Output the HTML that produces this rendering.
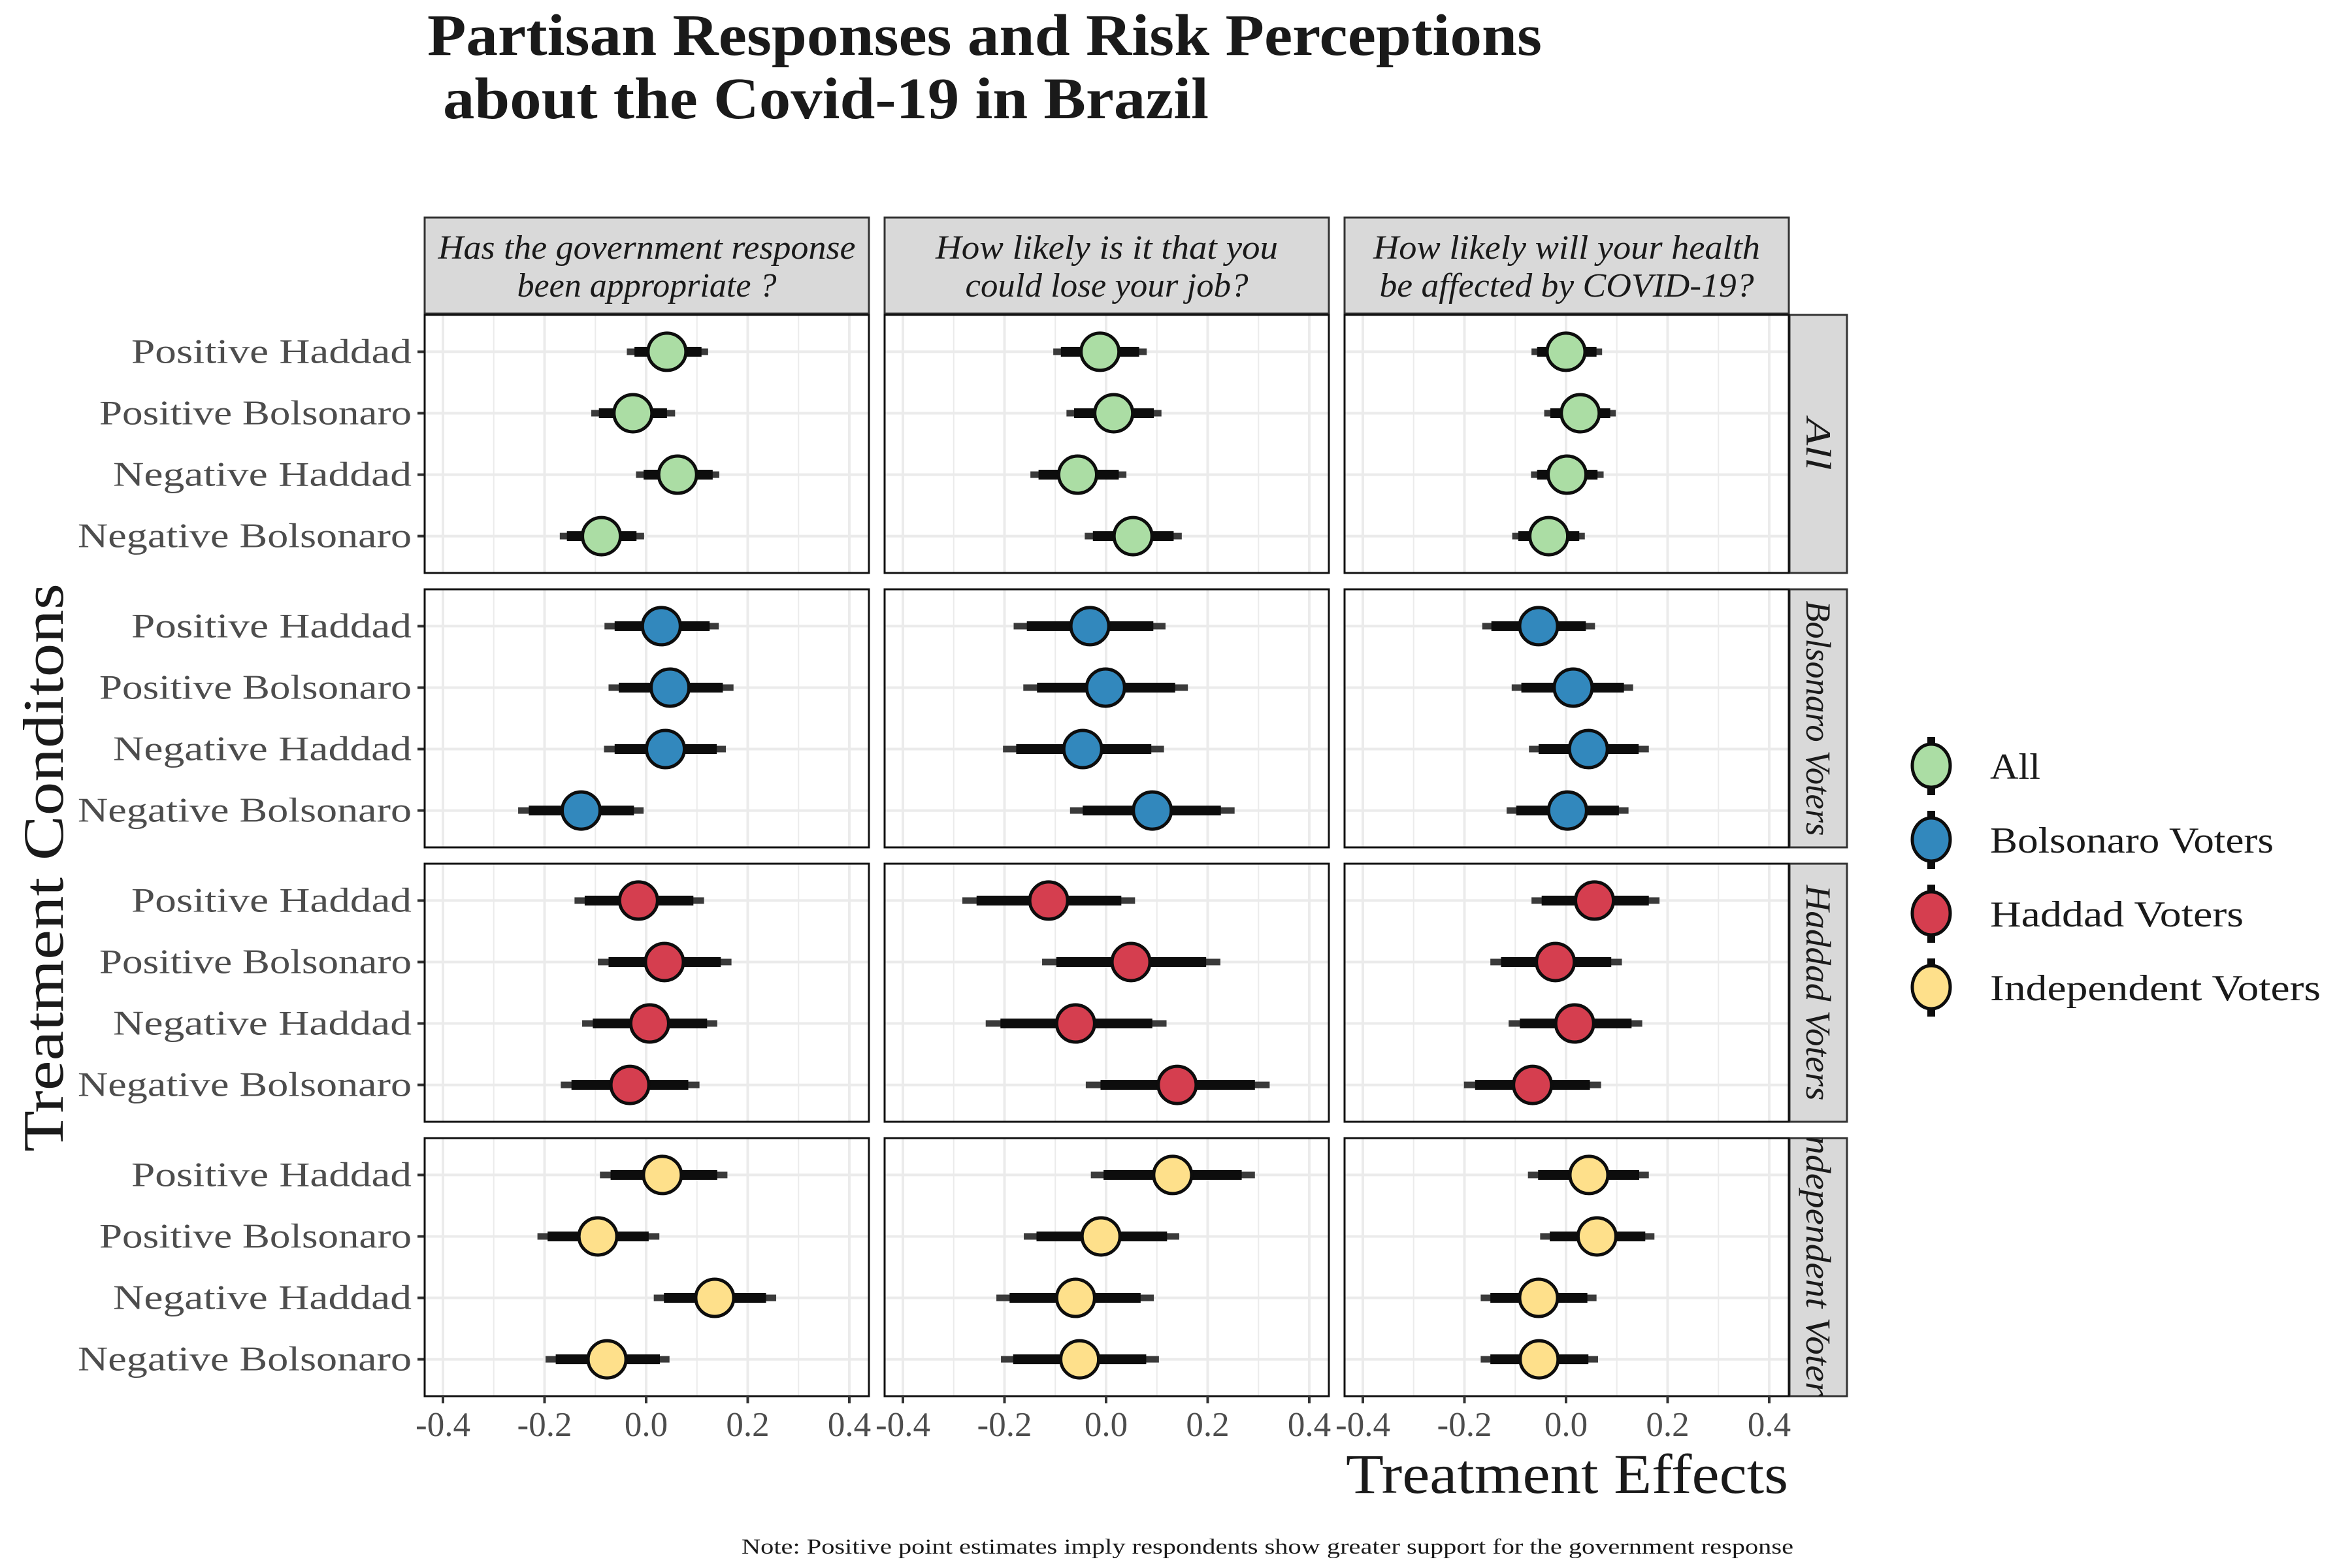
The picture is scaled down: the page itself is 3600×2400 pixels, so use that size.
<!DOCTYPE html>
<html><head><meta charset="utf-8"><style>
html,body{margin:0;padding:0;background:#fff;}
svg{display:block;}
</style></head>
<body>
<svg id="chart" xmlns="http://www.w3.org/2000/svg" width="3600" height="2400" viewBox="0 0 3600 2400" font-family="'Liberation Serif', serif">
<rect x="0" y="0" width="3600" height="2400" fill="#fff"/>
<text x="654" y="84" font-size="90" font-weight="bold" fill="#1a1a1a" textLength="1706" lengthAdjust="spacingAndGlyphs">Partisan Responses and Risk Perceptions</text>
<text x="678" y="181" font-size="90" font-weight="bold" fill="#1a1a1a" textLength="1172" lengthAdjust="spacingAndGlyphs">about the Covid-19 in Brazil</text>
<text transform="translate(96,1328) rotate(-90)" text-anchor="middle" font-size="88" fill="#1a1a1a" textLength="870" lengthAdjust="spacingAndGlyphs">Treatment Conditons</text>
<text x="2737" y="2285" text-anchor="end" font-size="86" fill="#1a1a1a" textLength="677" lengthAdjust="spacingAndGlyphs">Treatment Effects</text>
<text x="2745" y="2378" text-anchor="end" font-size="33" fill="#1a1a1a" textLength="1610" lengthAdjust="spacingAndGlyphs">Note: Positive point estimates imply respondents show greater support for the government response</text>
<g id="panels"></g>
<g id="legend"></g>
</svg>
<script>
// ---- data ----
const conditions = ["Positive Haddad", "Positive Bolsonaro", "Negative Haddad", "Negative Bolsonaro"];
const groups = ["All", "Bolsonaro Voters", "Haddad Voters", "Independent Voters"];
const questions = [["Has the government response", "been appropriate ?"], ["How likely is it that you", "could lose your job?"], ["How likely will your health", " be affected by COVID-19?"]];
const xTicks = [-0.4, -0.2, 0.0, 0.2, 0.4];
const xTickLabels = ["-0.4", "-0.2", "0.0", "0.2", "0.4"];
const groupColors = ["#ABDDA4", "#3288BD", "#D53E4F", "#FEE08B"];
// [group][question][condition]
const estimates = [
 [[0.041,-0.026,0.062,-0.088],[-0.012,0.015,-0.056,0.053],[0.000,0.028,0.002,-0.034]],
 [[0.030,0.047,0.038,-0.128],[-0.032,-0.001,-0.046,0.091],[-0.054,0.014,0.044,0.003]],
 [[-0.015,0.036,0.007,-0.032],[-0.113,0.049,-0.060,0.140],[0.056,-0.021,0.017,-0.066]],
 [[0.032,-0.095,0.135,-0.077],[0.131,-0.010,-0.060,-0.052],[0.045,0.061,-0.054,-0.053]]
];
const innerLow = [
 [[-0.023,-0.093,-0.005,-0.156],[-0.089,-0.063,-0.133,-0.026],[-0.057,-0.031,-0.057,-0.094]],
 [[-0.062,-0.054,-0.062,-0.231],[-0.156,-0.136,-0.177,-0.046],[-0.147,-0.088,-0.054,-0.098]],
 [[-0.121,-0.074,-0.105,-0.147],[-0.255,-0.098,-0.208,-0.011],[-0.048,-0.128,-0.091,-0.179]],
 [[-0.070,-0.194,0.035,-0.178],[-0.005,-0.137,-0.190,-0.183],[-0.055,-0.032,-0.149,-0.149]]
];
const innerHigh = [
 [[0.109,0.041,0.131,-0.019],[0.065,0.094,0.025,0.133],[0.060,0.087,0.062,0.026]],
 [[0.125,0.151,0.139,-0.024],[0.093,0.136,0.089,0.226],[0.039,0.114,0.143,0.104]],
 [[0.093,0.147,0.120,0.083],[0.030,0.197,0.091,0.293],[0.163,0.089,0.129,0.047]],
 [[0.140,0.005,0.236,0.027],[0.267,0.120,0.068,0.079],[0.144,0.156,0.042,0.044]]
];
const outerLow = [
 [[-0.038,-0.108,-0.020,-0.170],[-0.104,-0.078,-0.149,-0.042],[-0.068,-0.043,-0.069,-0.106]],
 [[-0.082,-0.074,-0.083,-0.252],[-0.182,-0.163,-0.203,-0.071],[-0.165,-0.107,-0.073,-0.117]],
 [[-0.141,-0.095,-0.126,-0.168],[-0.283,-0.126,-0.237,-0.040],[-0.068,-0.149,-0.113,-0.201]],
 [[-0.091,-0.214,0.015,-0.198],[-0.030,-0.162,-0.216,-0.207],[-0.075,-0.051,-0.168,-0.168]]
];
const outerHigh = [
 [[0.122,0.057,0.144,-0.004],[0.080,0.109,0.040,0.149],[0.071,0.098,0.074,0.037]],
 [[0.143,0.172,0.157,-0.005],[0.117,0.161,0.114,0.253],[0.057,0.132,0.163,0.123]],
 [[0.114,0.168,0.140,0.105],[0.057,0.225,0.119,0.322],[0.184,0.110,0.150,0.069]],
 [[0.160,0.026,0.256,0.046],[0.293,0.144,0.094,0.104],[0.163,0.174,0.060,0.063]]
];

// ---- layout ----
const NS = "http://www.w3.org/2000/svg";
const panelLefts = [650, 1354, 2058];
const panelW = 680, panelTop0 = 482, panelH = 395, rowStep = 420;
const zeroOffset = 339, pxPerUnit = 777.5;
const stripTextWidths = [[639, 397], [524, 433], [592, 573]];
const yLabelWidths = [429, 478, 457, 511];
const rowStripWidths = [80, 360, 330, 440];
function xScale(col, v) { return panelLefts[col] + zeroOffset + v * pxPerUnit; }
function yScale(row, i) { return panelTop0 + row * rowStep + (0.6 + i) * (panelH / 4.2); }
function mk(tag, attrs, parent) {
  const el = document.createElementNS(NS, tag);
  for (const k in attrs) el.setAttribute(k, attrs[k]);
  parent.appendChild(el);
  return el;
}
const root = document.getElementById("panels");
const defs = mk("defs", {}, root);

questions.forEach((q, c) => {
  const g = mk("g", {}, root);
  
  
  mk("rect", {x: panelLefts[c], y: 333, width: panelW, height: 147, fill: "#d9d9d9", stroke: "#333", "stroke-width": 3}, g);
  q.forEach((line, k) => {
    const t = mk("text", {x: panelLefts[c] + panelW / 2, y: 396 + k * 58, "text-anchor": "middle", "font-size": 52, "font-style": "italic", fill: "#1a1a1a", textLength: stripTextWidths[c][k], lengthAdjust: "spacingAndGlyphs"}, g);
    
    
    t.textContent = line;
  });
});

for (let r = 0; r < 4; r++) {
  const top = panelTop0 + r * rowStep;
  const sg = mk("g", {}, root);
  
  
  const cp = mk("clipPath", {id: "clip" + r}, defs);
  mk("rect", {x: 2739, y: top, width: 88, height: panelH}, cp);
  mk("rect", {x: 2739, y: top, width: 88, height: panelH, fill: "#d9d9d9", stroke: "#333", "stroke-width": 3}, sg);
  const clipG = mk("g", {"clip-path": "url(#clip" + r + ")"}, sg);
  const st = mk("text", {transform: `translate(2765,${top + panelH / 2}) rotate(90)`, "text-anchor": "middle", "font-size": 54, "font-style": "italic", fill: "#1a1a1a", textLength: rowStripWidths[r], lengthAdjust: "spacingAndGlyphs"}, clipG);
  
  
  st.textContent = groups[r];

  conditions.forEach((cond, i) => {
    const y = yScale(r, i);
    const t = mk("text", {x: 630, y: y + 17, "text-anchor": "end", "font-size": 53, fill: "#4d4d4d", textLength: yLabelWidths[i], lengthAdjust: "spacingAndGlyphs"}, root);
    
    
    t.textContent = cond;
    const tk = mk("line", {x1: 639, x2: 650, y1: y, y2: y, stroke: "#333", "stroke-width": 4}, root);
    
    
  });

  for (let c = 0; c < 3; c++) {
    const L = panelLefts[c];
    const pg = mk("g", {}, root);
    
    
    mk("rect", {x: L, y: top, width: panelW, height: panelH, fill: "#fff"}, pg);
    [-0.3, -0.1, 0.1, 0.3].forEach(v => {
      mk("line", {x1: xScale(c, v), x2: xScale(c, v), y1: top, y2: top + panelH, stroke: "#ebebeb", "stroke-width": 2}, pg);
    });
    xTicks.forEach(v => {
      mk("line", {x1: xScale(c, v), x2: xScale(c, v), y1: top, y2: top + panelH, stroke: "#ebebeb", "stroke-width": 4}, pg);
    });
    conditions.forEach((cond, i) => {
      const y = yScale(r, i);
      mk("line", {x1: L, x2: L + panelW, y1: y, y2: y, stroke: "#ebebeb", "stroke-width": 4}, pg);
    });
    conditions.forEach((cond, i) => {
      const y = yScale(r, i);
      const mg = mk("g", {}, pg);
      
      
      const xo1 = xScale(c, outerLow[r][c][i]), xo2 = xScale(c, outerHigh[r][c][i]);
      mk("rect", {x: xo1, y: y - 5, width: xo2 - xo1, height: 10, fill: "#3a3a3a"}, mg);
      const xi1 = xScale(c, innerLow[r][c][i]), xi2 = xScale(c, innerHigh[r][c][i]);
      mk("rect", {x: xi1, y: y - 7.5, width: xi2 - xi1, height: 15, fill: "#0d0d0d"}, mg);
      mk("ellipse", {cx: xScale(c, estimates[r][c][i]), cy: y, rx: 29, ry: 28.5, fill: groupColors[r], stroke: "#0d0d0d", "stroke-width": 5}, mg);
    });
    mk("rect", {x: L, y: top, width: panelW, height: panelH, fill: "none", stroke: "#111", "stroke-width": 3}, pg);
    if (r === 3) {
      xTicks.forEach((v, k) => {
        const tk = mk("line", {x1: xScale(c, v), x2: xScale(c, v), y1: top + panelH, y2: top + panelH + 11, stroke: "#333", "stroke-width": 4}, root);
        
        
        const t = mk("text", {x: xScale(c, v), y: 2198, "text-anchor": "middle", "font-size": 53, fill: "#4d4d4d"}, root);
        
        
        t.textContent = xTickLabels[k];
      });
    }
  }
}

const lg = document.getElementById("legend");
const legendWidths = [77, 434, 388, 506];
groups.forEach((g, k) => {
  const y = 1172 + k * 113;
  const e = mk("g", {}, lg);
  
  
  mk("rect", {x: 2950, y: y - 44, width: 12, height: 89, fill: "#0d0d0d"}, e);
  mk("ellipse", {cx: 2956, cy: y, rx: 29, ry: 33, fill: groupColors[k], stroke: "#0d0d0d", "stroke-width": 5}, e);
  const t = mk("text", {x: 3046, y: y + 20, "font-size": 56, fill: "#1a1a1a", textLength: legendWidths[k], lengthAdjust: "spacingAndGlyphs"}, e);
  
  
  t.textContent = g;
});
</script>
</body></html>
